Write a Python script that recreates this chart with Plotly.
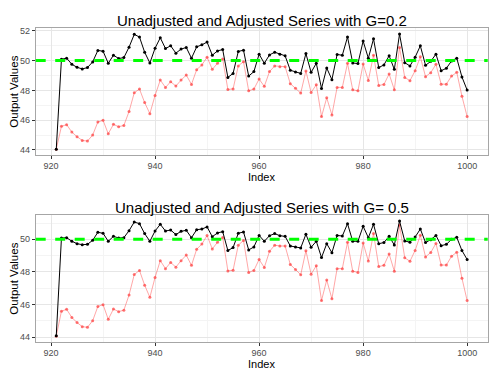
import plotly.graph_objects as go

index = list(range(921, 1001))

unadjusted = [44.05, 45.59, 45.70, 45.20, 44.89, 44.64, 44.60, 45.00, 45.88, 45.99,
              45.09, 45.72, 45.56, 45.65, 46.58, 47.84, 48.09, 47.18, 46.44, 47.66,
              48.69, 48.20, 48.58, 48.29, 48.69, 49.03, 48.40, 49.39, 49.71, 50.23,
              49.41, 49.82, 50.11, 48.06, 48.10, 49.64, 49.93, 47.97, 48.09, 48.76,
              48.27, 49.26, 49.64, 49.59, 49.59, 48.45, 48.15, 47.82, 49.30, 47.86,
              48.38, 46.24, 47.50, 46.35, 48.20, 48.20, 49.82, 48.04, 47.97, 49.77,
              48.67, 50.36, 48.33, 48.40, 49.10, 48.04, 50.88, 48.87, 48.65, 49.32,
              50.25, 48.92, 49.19, 49.75, 48.42, 48.42, 48.96, 49.21, 47.61, 46.24]

adjusted_g02 = [44.05, 50.09, 50.16, 49.75, 49.55, 49.44, 49.53, 49.91, 50.68, 50.63,
                49.82, 50.36, 50.14, 50.20, 50.90, 51.76, 51.58, 50.56, 49.84, 50.83,
                51.53, 50.81, 50.99, 50.50, 50.77, 50.88, 50.16, 50.92, 51.06, 51.24,
                50.36, 50.65, 50.74, 48.87, 49.14, 50.61, 50.70, 48.96, 49.26, 50.43,
                49.82, 50.38, 50.56, 50.43, 50.32, 49.35, 49.23, 49.14, 50.47, 49.21,
                49.82, 48.13, 49.50, 48.72, 50.41, 50.36, 51.58, 49.84, 49.80, 51.31,
                50.16, 51.46, 49.53, 49.71, 50.32, 49.41, 51.78, 49.86, 49.64, 50.23,
                50.99, 49.68, 49.95, 50.43, 49.32, 49.48, 49.98, 50.16, 48.90, 48.02]

adjusted_g05 = [44.08, 50.08, 50.10, 49.88, 49.73, 49.67, 49.69, 49.94, 50.43, 50.37,
                49.88, 50.18, 50.08, 50.10, 50.53, 51.06, 50.96, 50.35, 49.88, 50.51,
                50.92, 50.51, 50.57, 50.29, 50.49, 50.55, 50.10, 50.59, 50.63, 50.76,
                50.16, 50.39, 50.47, 49.31, 49.49, 50.37, 50.45, 49.35, 49.53, 50.24,
                49.88, 50.22, 50.35, 50.22, 50.18, 49.59, 49.53, 49.47, 50.31, 49.51,
                49.88, 48.88, 49.73, 49.18, 50.24, 50.20, 50.96, 49.88, 49.88, 50.80,
                50.10, 50.92, 49.73, 49.80, 50.18, 49.65, 51.12, 49.90, 49.82, 50.14,
                50.63, 49.80, 49.98, 50.24, 49.61, 49.69, 50.00, 50.12, 49.31, 48.76]

target = 50
titles = ["Unadjusted and Adjusted Series with G=0.2",
          "Unadjusted and Adjusted Series with G= 0.5"]
x_ticks = [920, 940, 960, 980, 1000]
y_ticks = [44, 46, 48, 50, 52]

FONT = "Liberation Sans, Arial, sans-serif"
W, H = 500, 374

fig = go.Figure()

def expand(vals, frac=0.05):
    lo, hi = min(vals), max(vals)
    span = hi - lo
    return [lo - frac * span, hi + frac * span]

panels = [
    dict(adj=adjusted_g02, top=28.3, bottom=155.0, sfx=""),
    dict(adj=adjusted_g05, top=215.3, bottom=342.0, sfx="2"),
]
x_left, x_right = 35.7, 487.7

xr = expand(index)

for p, title in zip(panels, titles):
    sfx = p["sfx"]
    xa = "x" + sfx
    ya = "y" + sfx
    fig.add_trace(go.Scatter(
        x=index, y=unadjusted, mode="lines+markers", xaxis=xa, yaxis=ya,
        line=dict(color="rgba(255,80,80,0.5)", width=1),
        marker=dict(color="rgba(255,60,60,0.7)", size=3, symbol="circle"),
        showlegend=False, hoverinfo="skip"))
    fig.add_trace(go.Scatter(
        x=index, y=p["adj"], mode="lines+markers", xaxis=xa, yaxis=ya,
        line=dict(color="black", width=1),
        marker=dict(color="black", size=3, symbol="circle"),
        showlegend=False, hoverinfo="skip"))
    yr = expand(unadjusted + p["adj"])
    dom_y = [1 - p["bottom"] / H, 1 - p["top"] / H]
    axis_common = dict(
        showline=True, linecolor="#A6A6A6", linewidth=1, mirror=True,
        ticks="outside", ticklen=3, tickcolor="#333333", tickwidth=1,
        tickfont=dict(family=FONT, size=9, color="#4D4D4D"),
        showgrid=True, gridcolor="#E6E6E6", gridwidth=1, zeroline=False,
        automargin=False,
    )
    fig.layout["xaxis" + sfx] = dict(
        axis_common, domain=[x_left / W, x_right / W], range=xr,
        tickvals=x_ticks, anchor=ya, ticklabelstandoff=-1,
        minor=dict(dtick=10, tick0=920, showgrid=True, gridcolor="#F4F4F4", ticks=""))
    fig.layout["yaxis" + sfx] = dict(
        axis_common, domain=dom_y, range=yr, tickvals=y_ticks, anchor=xa,
        minor=dict(dtick=1, tick0=44, showgrid=True, gridcolor="#F4F4F4", ticks=""))
    fig.add_shape(type="line", xref=xa + " domain", yref=ya,
                  x0=0, x1=1, y0=target, y1=target,
                  line=dict(color="#00FF00", width=3, dash="10px,9.5px"))
    # title
    fig.add_annotation(text=title, xref="paper", yref="paper",
                       x=(x_left + x_right) / 2 / W, y=1 - (p["top"] - 8) / H,
                       xanchor="center", yanchor="middle", showarrow=False,
                       font=dict(family=FONT, size=15, color="black"))
    # x title
    fig.add_annotation(text="Index", xref="paper", yref="paper",
                       x=(x_left + x_right) / 2 / W, y=1 - (p["bottom"] + 21.5) / H,
                       xanchor="center", yanchor="middle", showarrow=False,
                       font=dict(family=FONT, size=11, color="black"))
    # y title
    fig.add_annotation(text="Output Values", xref="paper", yref="paper",
                       x=14 / W, y=1 - (p["top"] + p["bottom"]) / 2 / H,
                       xanchor="center", yanchor="middle", showarrow=False, textangle=-90,
                       font=dict(family=FONT, size=11.5, color="black"))

fig.update_layout(
    width=W, height=H, margin=dict(l=0, r=0, t=0, b=0),
    paper_bgcolor="white", plot_bgcolor="white", showlegend=False,
)

fig.write_html("out.html", config={"displayModeBar": False},
               post_script="document.body.style.margin='0';document.body.style.padding='0';")
